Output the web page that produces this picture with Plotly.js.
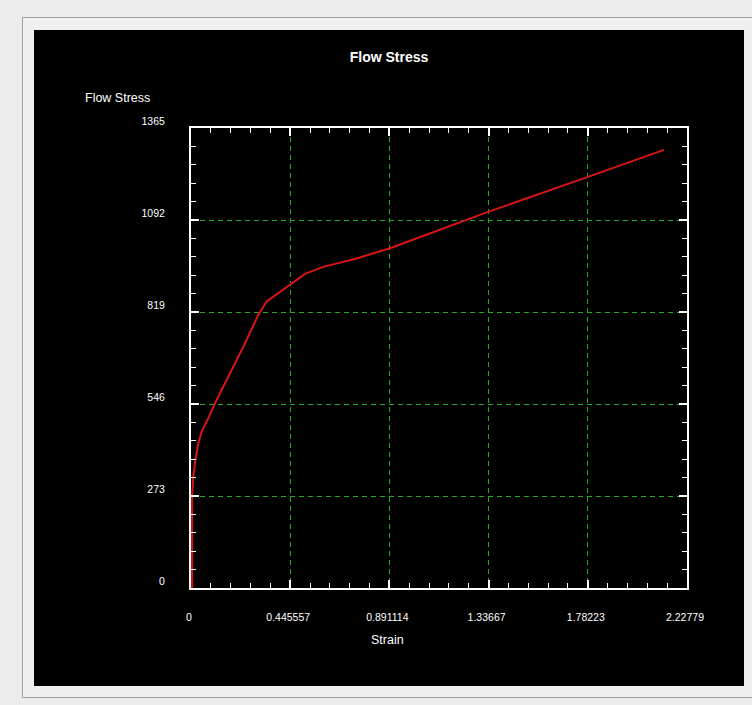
<!DOCTYPE html>
<html><head><meta charset="utf-8">
<script src="https://cdn.plot.ly/plotly-3.0.1.min.js"></script>
<style>
html,body{margin:0;padding:0;background:#ececec;width:752px;height:705px;overflow:hidden;}
#panel{position:absolute;left:22px;top:17px;width:760px;height:679px;border:1px solid #a0a0a0;background:#f0f0f0;}
#chart{position:absolute;left:34px;top:30px;width:710px;height:656px;}
</style></head><body>
<div id="panel"></div>
<div id="chart"></div>
<script>
const strain = [0.005, 0.005, 0.010, 0.018, 0.033, 0.048, 0.078, 0.115, 0.235, 0.302, 0.340, 0.445, 0.512, 0.593, 0.744, 0.894, 1.334, 1.783, 2.124];
const flowStress = [0, 270, 330, 371, 430, 464, 504, 558, 716, 810, 850, 899, 932, 953, 978, 1008, 1116, 1220, 1300];
const xTickVals = [0, 0.445557, 0.891114, 1.33667, 1.78223, 2.22779];
const xTickText = ['0', '0.445557', '0.891114', '1.33667', '1.78223', '2.22779'];
const yTickVals = [0, 273, 546, 819, 1092, 1365];
const yTickText = ['0', '273', '546', '819', '1092', '1365'];
const chartTitle = 'Flow Stress';
const xTitle = 'Strain';
const yTitle = 'Flow Stress';

const FONT = '"Liberation Sans", Arial, sans-serif';
const GRID = '#26a826';

const common = {
  tickmode: 'array',
  ticks: 'inside', ticklen: 8, tickwidth: 2, tickcolor: '#ffffff',
  showline: true, linecolor: '#ffffff', linewidth: 2, mirror: 'ticks',
  showgrid: true, gridcolor: GRID, gridwidth: 1, griddash: '5px,4px',
  zeroline: false, fixedrange: true,
  tickfont: {color: '#ffffff', size: 10.5, family: FONT}
};

const layout = {
  width: 710, height: 656,
  paper_bgcolor: '#000000', plot_bgcolor: '#000000',
  margin: {l: 157, r: 57, t: 98, b: 98},
  showlegend: false,
  title: {text: '<b>' + chartTitle + '</b>', font: {color: '#ffffff', size: 14, family: FONT},
          x: 0.5, xref: 'container', xanchor: 'center', y: 0.9588, yref: 'container', yanchor: 'middle'},
  xaxis: Object.assign({}, common, {
    range: [0, 2.22779], tickvals: xTickVals, ticktext: xTickText,
    ticklabelstandoff: 18, ticklabelshift: -2,
    minor: {tickmode: 'linear', tick0: 0, dtick: 0.445557 / 5, ticks: 'inside', ticklen: 5, tickwidth: 1, tickcolor: '#ffffff', showgrid: false}
  }),
  yaxis: Object.assign({}, common, {
    range: [0, 1365], tickvals: yTickVals, ticktext: yTickText,
    ticklabelstandoff: 22, ticklabelshift: -7,
    minor: {tickmode: 'linear', tick0: 0, dtick: 273 / 5, ticks: 'inside', ticklen: 5, tickwidth: 1, tickcolor: '#ffffff', showgrid: false}
  }),
  annotations: [
    {text: xTitle, xref: 'paper', yref: 'paper', x: 0.397, y: -0.114, xanchor: 'center', yanchor: 'middle',
     showarrow: false, font: {color: '#ffffff', size: 12.5, family: FONT}},
    {text: yTitle, xref: 'paper', yref: 'paper', x: -0.149, y: 1.065, xanchor: 'center', yanchor: 'middle',
     showarrow: false, font: {color: '#ffffff', size: 12.5, family: FONT}}
  ]
};

const traces = [{
  type: 'scatter', mode: 'lines', x: strain, y: flowStress,
  line: {color: '#d81414', width: 2}, hoverinfo: 'skip'
}];

Plotly.newPlot('chart', traces, layout, {displayModeBar: false, staticPlot: true});
</script>
</body></html>
